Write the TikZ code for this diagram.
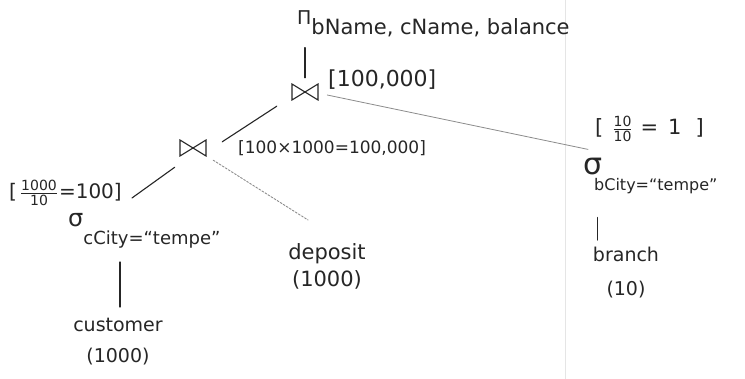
\documentclass[tikz,border=0pt]{standalone}
\usepackage{fontspec}
\setmainfont{DejaVu Sans}
\begin{document}
\begin{tikzpicture}[x=1pt,y=1pt,
  ink/.style={draw=black!85, line width=1.1pt, line cap=round},
  pencil/.style={draw=black!45, line width=0.8pt, line cap=round},
  faintdots/.style={draw=black!45, line width=0.9pt, dash pattern=on 2pt off 1.6pt, line cap=round},
  hand/.style={text=black!85, inner sep=0pt, font=\fontsize{19}{22}\selectfont},
  joinop/.style={minimum width=28pt, minimum height=18pt, inner sep=0pt,
    path picture={\draw[ink]
      ([shift={(1pt,1pt)}]path picture bounding box.south west) --
      ([shift={(1pt,-1pt)}]path picture bounding box.north west) --
      ([shift={(-1pt,1pt)}]path picture bounding box.south east) --
      ([shift={(-1pt,-1pt)}]path picture bounding box.north east) -- cycle;}},
]
% page
\fill[white] (0,0) rectangle (745,-379);
\useasboundingbox (0,0) rectangle (745,-379);
% faint fold line of the sheet
\draw[black!10, line width=0.6pt] (565,0) -- (565,-379);

% projection at the root
\node[hand, anchor=base west] (proj) at (297,-25)
  {Π\raisebox{-10pt}{\fontsize{21}{21}\selectfont bName, cName, balance}};

% the two joins
\node[joinop] (tj) at (305,-92) {};
\node[joinop] (lj) at (193,-148) {};

% estimated sizes
\node[hand, anchor=west, font=\fontsize{22}{22}\selectfont] (c1) at (328,-80) {[100,000]};
\node[hand, anchor=west, font=\fontsize{17}{17}\selectfont] (c2) at (238,-148) {[100×1000=100,000]};
\node[hand, anchor=west, font=\fontsize{20}{20}\selectfont] (c3) at (9,-193)
  {[\hspace{3pt}$\frac{\mbox{\fontsize{14}{14}\selectfont 1000}}{\mbox{\fontsize{14}{14}\selectfont 10}}$\hspace{1pt}=100]};
\node[hand, anchor=west, font=\fontsize{21}{21}\selectfont] (c4) at (595,-129)
  {[\hspace{9pt}$\frac{\mbox{\fontsize{14}{14}\selectfont 10}}{\mbox{\fontsize{14}{14}\selectfont 10}}$\hspace{8pt}=\hspace{10pt}1\hspace{14pt}]};

% selections
\node[hand, anchor=base west] (sl) at (68,-227)
  {{\fontsize{24}{24}\selectfont σ}\raisebox{-18pt}{\fontsize{18}{18}\selectfont cCity=“tempe”}};
\node[hand, anchor=base west] (sr) at (583,-175)
  {{\fontsize{30}{30}\selectfont σ}\hspace{-8pt}\raisebox{-16pt}{\fontsize{16}{16}\selectfont bCity=“tempe”}};

% base relations
\node[hand, align=center, anchor=north, font=\fontsize{19}{31}\selectfont] (cu) at (118,-318) {customer\\(1000)};
\node[hand, align=center, anchor=north, font=\fontsize{21}{27}\selectfont] (dep) at (327,-243) {deposit\\(1000)};
\node[hand, align=center, anchor=north, font=\fontsize{19}{34}\selectfont] (br) at (626,-247) {branch\\(10)};

% tree edges
\draw[ink] ([yshift=5pt]tj.north) -- ([yshift=-10pt]tj.north |- proj.south);
\draw[ink] ([xshift=-14pt,yshift=-5pt]tj.south west) -- ([xshift=15pt,yshift=-3pt]lj.north east);
\draw[pencil] ([xshift=8pt,yshift=-3pt]tj.east) -- ([xshift=5pt,yshift=9pt]sr.north west);
\draw[ink] ([xshift=-4pt,yshift=-10pt]lj.south west) -- ([xshift=10pt,yshift=-5pt]c3.east);
\draw[faintdots] ([xshift=6pt,yshift=-3pt]lj.south east) -- ([xshift=-19pt,yshift=23pt]dep.north);
\draw[ink, shorten >=24pt] ([xshift=2pt,yshift=11pt]cu.north) -- ([xshift=2pt,yshift=11pt]cu.north |- sl.south);
\draw[ink, shorten >=30pt] ([xshift=5pt,yshift=7pt]br.north west) -- ([xshift=5pt,yshift=7pt]br.north west |- sr.south);
\end{tikzpicture}
\end{document}
